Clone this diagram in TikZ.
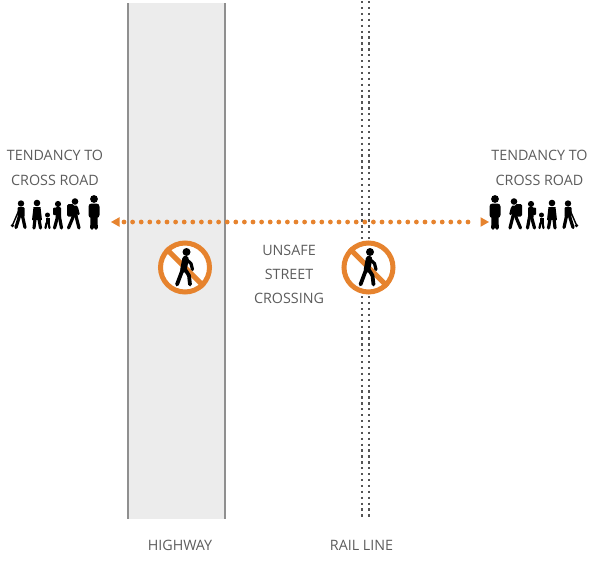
\documentclass[tikz,border=0pt]{standalone}
\usepackage{fontspec}
\newfontfamily\labelfont{Open Sans}
\usepackage{tikz}
\usetikzlibrary{arrows.meta}
\definecolor{crossorange}{HTML}{E6832E}
\definecolor{labelgray}{HTML}{5C5C5C}
\definecolor{roadgray}{HTML}{ECECEC}
\definecolor{edgegray}{HTML}{8F8F8F}
\definecolor{railgray}{HTML}{555555}

\tikzset{
  labeltext/.style={text=labelgray, font=\labelfont\fontsize{14.3}{25}\selectfont,
    align=center, inner sep=0pt},
  nosign/.style={circle, draw=crossorange, line width=5pt, fill=white,
    minimum size=49pt, inner sep=0pt},
  dotline/.style={crossorange, line width=4.8pt, line cap=round,
    dash pattern=on 0pt off 8.6pt},
  raildots/.style={railgray, line width=2.3pt, dash pattern=on 2.3pt off 3.6pt},
  limb/.style={line width=3.2pt, line cap=round, line join=round},
  walkman/.pic={
    \fill (1.5,-15.5) circle (4);
    \draw[line width=6.5pt, line cap=round] (0.5,-8.5) -- (-1.5,2);
    \draw[limb] (1.5,-8) -- (6,-4) -- (7.5,2);
    \draw[limb, line width=3.8pt] (-2,1) -- (-5,9) -- (-8,17);
    \draw[limb, line width=3.8pt] (-0.5,1) -- (4,8) -- (5,17);
  },
}

% six walkers, drawn for the left side
\newcommand\crowd{%
  % with suitcase
  \fill (21,203.5) circle (3.2);
  \fill[rounded corners=1pt] (17.5,207) rectangle (24.5,217);
  \draw[limb] (19.5,216) -- (16,227.5);
  \draw[limb] (22.5,216) -- (25,227.5);
  \draw[line width=1.4pt] (19,210) -- (13,224);
  \fill (12.5,225.5) circle (1.8);
  % coat
  \fill (37,203) circle (3.3);
  \fill (33.5,207) -- (40.5,207) -- (42,220) -- (32,220) -- cycle;
  \draw[limb] (35,219) -- (34,228);
  \draw[limb] (39,219) -- (40.5,228);
  % child
  \fill (47.5,215) circle (2.5);
  \fill (45.5,218) rectangle (49.5,223.5);
  \draw[limb, line width=2.2pt] (46.5,223) -- (45.5,228);
  \draw[limb, line width=2.2pt] (48.5,223) -- (49.5,228);
  % small backpack
  \fill (58,204) circle (3.1);
  \fill[rounded corners=1pt] (53,207.5) rectangle (57,215);
  \fill[rounded corners=1pt] (55.5,207) rectangle (61,218);
  \draw[limb] (57.5,217) -- (54.5,228);
  \draw[limb] (59.5,217) -- (61.5,228);
  % big backpack
  \fill (75,201.5) circle (3.3);
  \fill[rounded corners=1.5pt] (67,204) rectangle (74,216.5);
  \fill[rounded corners=1pt] (71.5,205.5) rectangle (77.5,217);
  \draw[limb] (73.5,216) -- (68.5,228);
  \draw[limb] (76,216) -- (79,228);
  \draw[limb, line width=2.4pt] (77,208) -- (78.5,214);
  % standing
  \fill (94,199) circle (3.9);
  \fill[rounded corners=3pt] (88.5,203.5) rectangle (99.5,218);
  \draw[limb, line width=3.6pt] (92.2,217) -- (92,228);
  \draw[limb, line width=3.6pt] (95.8,217) -- (96,228);
}

\begin{document}
\begin{tikzpicture}[x=1pt, y=-1pt]
\useasboundingbox (0,0) rectangle (589,560);

%========================
% Highway
%========================

\fill[roadgray] (128,3) rectangle (225,519);
\draw[edgegray, line width=1.6pt] (128,3) -- (128,519);
\draw[edgegray, line width=1.6pt] (225,3) -- (225,519);

%========================
% Rail line
%========================

\foreach \x in {362.3,369.3}
{
    \draw[raildots] (\x,1) -- (\x,519);
}

%========================
% Crossing arrow
%========================

\coordinate (crossL) at (111,222);
\coordinate (crossR) at (489,222);

\draw[dotline] ([xshift=13pt]crossL) -- ([xshift=-13pt]crossR);
\fill[crossorange] (crossL) -- ++(8.5,-4.8) -- ++(0,9.6) -- cycle;
\fill[crossorange] (crossR) -- ++(-8.5,-4.8) -- ++(0,9.6) -- cycle;

%========================
% No crossing signs
%========================

\node[nosign] (signHwy) at (185,267.5) {};
\node[nosign] (signRail) at (368.5,267.5) {};

\foreach \s in {signHwy,signRail}
{
    \draw[crossorange, line width=5pt] (\s.135) -- (\s.-45);
    \pic at (\s.center) {walkman};
}

%========================
% Walkers
%========================

\crowd
\begin{scope}[xshift=589pt, xscale=-1]
\crowd
\end{scope}

%========================
% Labels
%========================

\node[labeltext] (tendL) at (55,167.5) {TENDANCY TO\\CROSS ROAD};
\node[labeltext] (tendR) at (539.5,167.5) {TENDANCY TO\\CROSS ROAD};
\node[labeltext, font=\labelfont\fontsize{14.3}{24}\selectfont] (unsafe) at (289,274) {UNSAFE\\STREET\\CROSSING};
\node[labeltext] (hwy) at (180,545) {HIGHWAY};
\node[labeltext] (rail) at (361.5,545) {RAIL LINE};
\end{tikzpicture}
\end{document}
